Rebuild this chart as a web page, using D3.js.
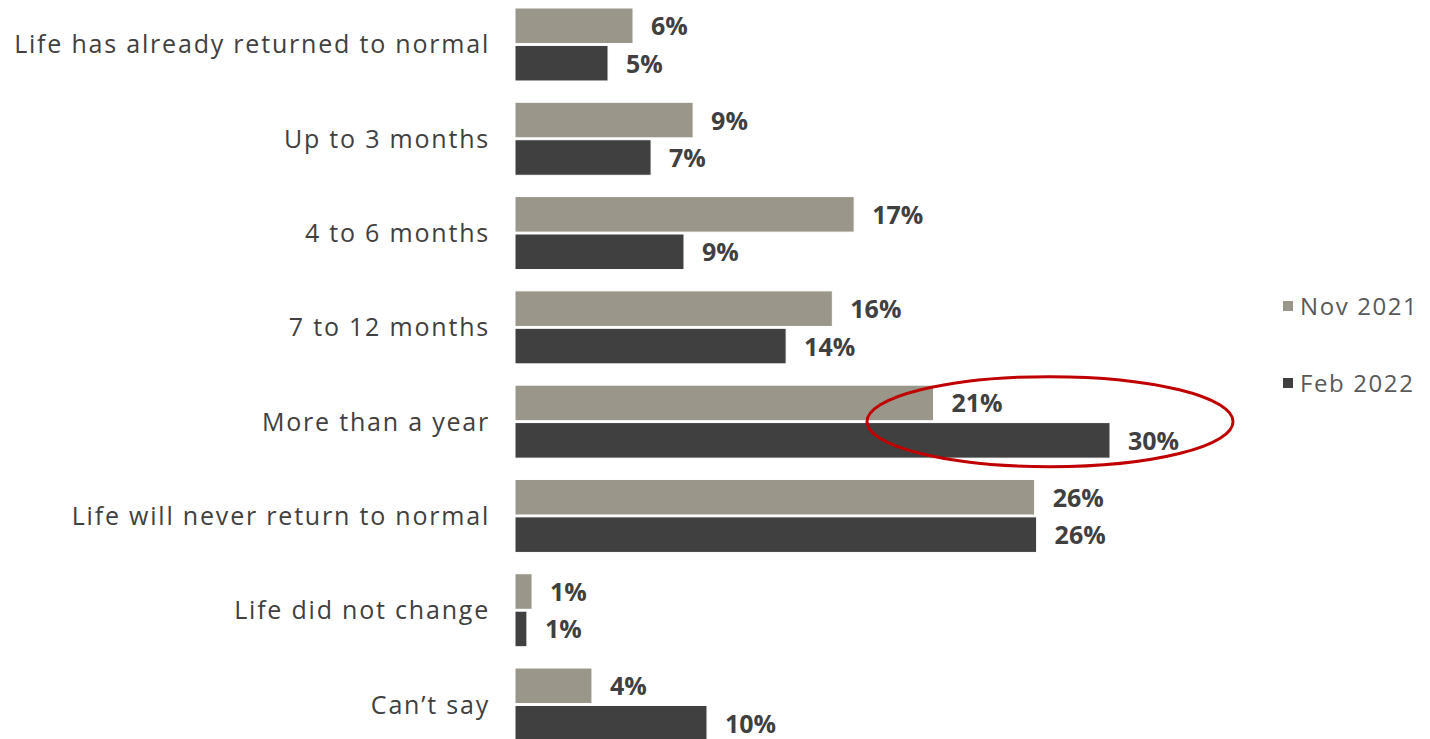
<!DOCTYPE html>
<html>
<head>
<meta charset="utf-8">
<script src="https://cdn.jsdelivr.net/npm/d3@7"></script>
<style>
  body { margin: 0; background: #fff; }
</style>
</head>
<body>
<div id="chart"></div>
<script>
// values (labels are the rounded figures)
const categories = [
  "Life has already returned to normal",
  "Up to 3 months",
  "4 to 6 months",
  "7 to 12 months",
  "More than a year",
  "Life will never return to normal",
  "Life did not change",
  "Can\u2019t say"
];
const seriesNames = ["Nov 2021", "Feb 2022"];
const nov2021 = [5.95, 8.98, 17.1, 16.0, 21.1, 26.2, 0.86, 3.88];
const feb2022 = [4.69, 6.86, 8.52, 13.67, 30.0, 26.3, 0.6, 9.68];
const colors = ["#9a978a", "#404040"];

const width = 1430, height = 739;

const rows = categories.map((c, i) => ({cat: c, values: [nov2021[i], feb2022[i]]}));

const svg = d3.select("#chart").append("svg")
  .attr("width", width)
  .attr("height", height);

const x = d3.scaleLinear().domain([0, 30]).range([515, 1110]);

const y0 = d3.scaleBand()
  .domain(categories)
  .range([8, 741])
  .paddingInner(0.226)
  .paddingOuter(0);

const y1 = d3.scaleBand()
  .domain(seriesNames)
  .range([0, y0.bandwidth()])
  .paddingInner(0.05);

const groups = svg.selectAll("g.grp")
  .data(rows)
  .enter()
  .append("g")
    .attr("class", "grp")
    .attr("transform", d => `translate(0,${y0(d.cat)})`);

groups.selectAll("rect")
  .data(d => d.values.map((v, i) => ({s: seriesNames[i], v: v, i: i})))
  .enter()
  .append("rect")
    .attr("x", x(0))
    .attr("y", d => y1(d.s))
    .attr("width", d => x(d.v) - x(0))
    .attr("height", y1.bandwidth())
    .attr("fill", d => colors[d.i])
    .attr("stroke", "#ffffff")
    .attr("stroke-width", 1);

groups.selectAll("text.val")
  .data(d => d.values.map((v, i) => ({s: seriesNames[i], v: v, i: i})))
  .enter()
  .append("text")
    .attr("class", "val")
    .attr("x", d => x(d.v) + 18)
    .attr("y", d => y1(d.s) + y1.bandwidth() / 2)
    .attr("dy", "0.38em")
    .attr("font-family", "'Liberation Sans Narrow', 'Open Sans', sans-serif")
    .attr("font-weight", "bold")
    .attr("font-size", 25)
    .attr("fill", "#404040")
    .text(d => Math.round(d.v) + "%");

// category labels (trailing letter-spacing is offset by x)
groups.append("text")
  .attr("x", 490)
  .attr("y", y0.bandwidth() / 2)
  .attr("dy", "0.36em")
  .attr("text-anchor", "end")
  .attr("font-family", "'Open Sans', sans-serif")
  .attr("font-size", 25)
  .attr("letter-spacing", 1.8)
  .attr("fill", "#404040")
  .text(d => d.cat);

// legend
const legend = svg.append("g").attr("transform", "translate(1283,306)");
seriesNames.forEach((s, i) => {
  const g = legend.append("g").attr("transform", `translate(0,${i * 77})`);
  g.append("rect")
    .attr("x", 0).attr("y", -5)
    .attr("width", 10).attr("height", 10)
    .attr("fill", colors[i]);
  g.append("text")
    .attr("x", 17).attr("y", 0)
    .attr("dy", "0.36em")
    .attr("font-family", "'Open Sans', sans-serif")
    .attr("font-size", 24)
    .attr("letter-spacing", 1.6)
    .attr("fill", "#595959")
    .text(s);
});

// red highlight ellipse around "More than a year"
const hi = categories[4];
svg.append("ellipse")
  .attr("cx", x(feb2022[4]) - 60)
  .attr("cy", y0(hi) + y0.bandwidth() / 2)
  .attr("rx", 183)
  .attr("ry", 45)
  .attr("fill", "none")
  .attr("stroke", "#c00000")
  .attr("stroke-width", 3);
</script>
</body>
</html>
